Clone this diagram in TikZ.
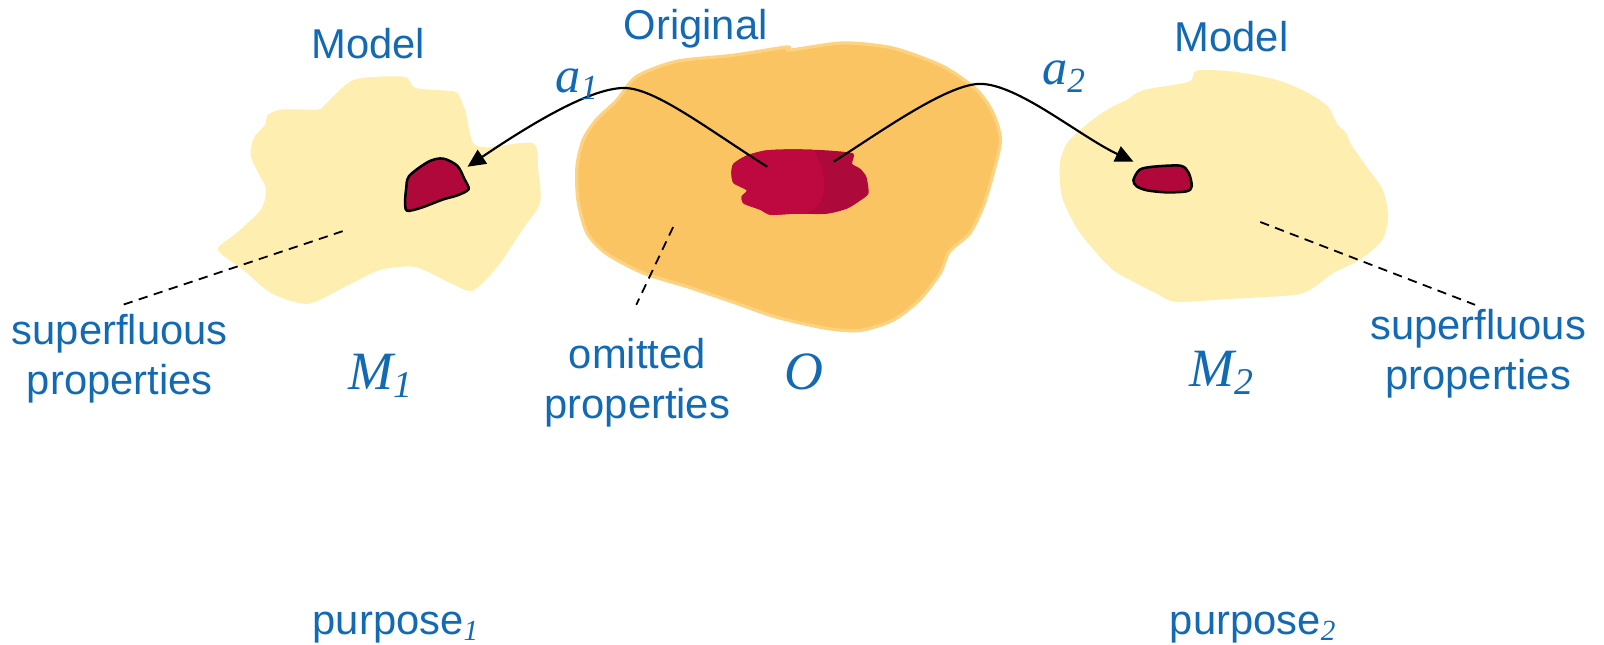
\documentclass[tikz,border=0pt]{standalone}
\usepackage{fontspec}
\setmainfont{Liberation Sans}
\newfontfamily\tms{Liberation Serif}
\usetikzlibrary{arrows.meta}
\definecolor{txtblue}{RGB}{18,106,178}
\definecolor{paleyel}{RGB}{254,238,176}
\definecolor{orng}{RGB}{251,196,98}
\definecolor{orngedge}{RGB}{253,211,130}
\definecolor{crim}{RGB}{190,8,64}
\definecolor{crimdk}{RGB}{173,9,58}
\definecolor{blobred}{RGB}{176,8,58}
\begin{document}
\begin{tikzpicture}[x=0.01cm,y=-0.01cm,
  lbl/.style={text=txtblue, font=\fontsize{11.6}{13.94}\selectfont, align=center, inner sep=0pt},
  mlbl/.style={text=txtblue, font=\fontsize{15}{17}\tms\itshape, inner sep=0pt},
  albl/.style={text=txtblue, font=\fontsize{14}{16}\tms\itshape, inner sep=0pt},
  conn/.style={draw=black, line width=0.6pt, -{Triangle[length=5pt,width=4.6pt]}},
  leader/.style={draw=black, line width=0.5pt, dash pattern=on 2.6pt off 1.8pt},
  smallblob/.style={fill=blobred, draw=black, line width=0.7pt}]
\useasboundingbox (0,0) rectangle (1568,630);

% left model blob
\fill[paleyel] plot[smooth cycle, tension=0.45] coordinates {
 (346,78) (395,75) (406,86) (441,89) (448,92) (455,109) (462,139) (476,144)
 (521,140) (526,165) (528,198) (511,224) (486,261) (462,284) (441,277)
 (406,261) (371,264) (336,281) (301,297) (266,287) (238,264) (213,244)
 (231,228) (255,205) (260,185) (252,168) (245,152) (248,135) (259,122)
 (262,112) (276,107) (311,107) (318,102)};

% right model blob
\fill[paleyel] plot[smooth cycle, tension=0.45] coordinates {
 (1170,69) (1206,70) (1248,78) (1277,90) (1298,104) (1307,121) (1316,130)
 (1320,140) (1336,163) (1352,186) (1357,212) (1351,235) (1329,254) (1303,267)
 (1287,279) (1268,288) (1206,292) (1150,295) (1131,287) (1111,277) (1088,264)
 (1069,244) (1052,222) (1038,192) (1036,160) (1043,140) (1056,127) (1072,114)
 (1088,104) (1101,98) (1118,88) (1162,80)};

% original blob
\filldraw[fill=orng, draw=orngedge, line width=0.9pt] plot[smooth cycle, tension=0.45] coordinates {
 (622,75) (661,60) (717,54) (769,46) (772,49) (824,42) (873,47) (922,65)
 (955,88) (971,111) (978,137) (971,169) (961,202) (948,228) (928,246)
 (919,267) (899,293) (873,313) (841,323) (808,321) (759,310) (710,293)
 (671,280) (629,267) (593,248) (574,228) (565,196) (564,163) (570,137)
 (583,117) (603,98)};

% central red region
\begin{scope}
 \path[clip] plot[smooth cycle, tension=0.4] coordinates {
  (717,160) (730,152) (749,147) (776,146) (808,147) (834,150) (833,160)
  (841,165) (847,173) (849,189) (841,196) (828,204) (808,209) (776,209)
  (753,210) (743,205) (727,199) (725,192) (730,186) (717,179) (715,169)};
 \fill[crimdk] (700,130) rectangle (870,225);
 \fill[crim] (700,130) -- (793,130) -- plot[smooth, tension=0.6] coordinates {
  (795,146) (803,163) (806,182) (801,199) (790,208)} -- (780,225) -- (700,225) -- cycle;
\end{scope}

% small model blobs
\path[smallblob] plot[smooth cycle, tension=0.5] coordinates {
 (397,185) (400,172) (419,158) (433,155) (447,162) (454,175) (458,185)
 (447,191) (433,195) (412,203) (398,206) (396,198)};
\path[smallblob] plot[smooth cycle, tension=0.5] coordinates {
 (1108,176) (1114,166) (1127,163) (1154,162) (1162,169) (1165,182)
 (1160,187) (1140,188) (1121,186) (1111,182)};

% connector end points
\coordinate (o1) at (750,163);
\coordinate (p1) at (610,86);
\coordinate (m1) at (457,163);
\coordinate (o2) at (815,158);
\coordinate (p2) at (958,82);
\coordinate (m2) at (1108,158);

\draw[conn] (o1) .. controls (690,125) and (640,86) .. (p1)
            .. controls (575,86) and (512,126) .. (m1);
\draw[conn] (o2) .. controls (855,133) and (925,82) .. (p2)
            .. controls (995,82) and (1055,133) .. (m2);

% labels
\node[lbl, anchor=base] (modelL) at (360,57) {Model};
\node[lbl, anchor=base] (orig) at (680,39) {Original};
\node[lbl, anchor=base] (modelR) at (1204,50) {Model};
\node[albl, anchor=base west] (a1) at (542,90) {a\textsubscript{1}};
\node[albl, anchor=base west] (a2) at (1018,83) {a\textsubscript{2}};

\node[lbl] (supL) at (117,351) {superfluous\\properties};
\node[lbl] (omit) at (623,374) {omitted\\properties};
\node[lbl] (supR) at (1445,346) {superfluous\\properties};

\node[mlbl, anchor=base] (M1) at (373,381) {M\textsubscript{1}};
\node[mlbl, anchor=base] (O) at (786,381) {O};
\node[mlbl, anchor=base] (M2) at (1195,378) {M\textsubscript{2}};

\node[lbl, anchor=base west] (pur1) at (305,620) {purpose\textsubscript{\tms\itshape 1}};
\node[lbl, anchor=base west] (pur2) at (1143,620) {purpose\textsubscript{\tms\itshape 2}};

% leader lines
\coordinate (dL1) at (335,226);
\coordinate (dL2) at (120,298);
\coordinate (dO1) at (658,222);
\coordinate (dO2) at (622,298);
\coordinate (dR1) at (1232,217);
\coordinate (dR2) at (1442,298);
\draw[leader] (dL1) -- (dL2);
\draw[leader] (dO1) -- (dO2);
\draw[leader] (dR1) -- (dR2);
\end{tikzpicture}
\end{document}
